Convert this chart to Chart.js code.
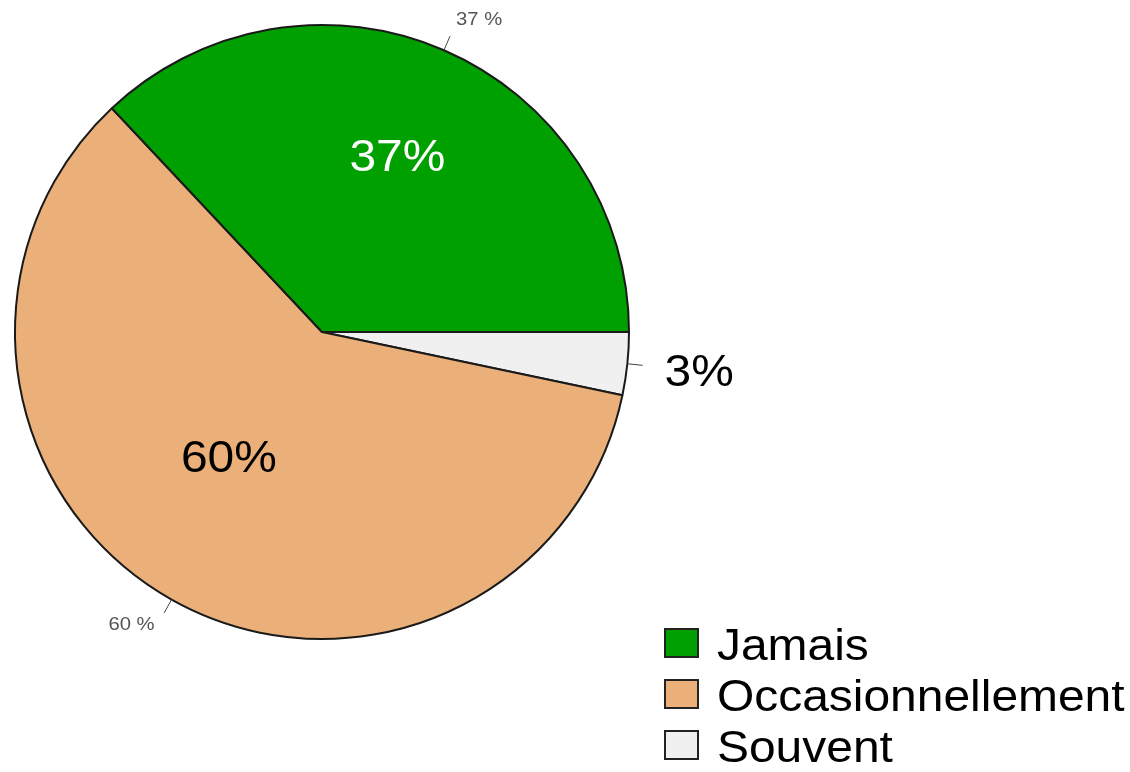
<!DOCTYPE html>
<html>
<head>
<meta charset="utf-8">
<script src="https://cdn.jsdelivr.net/npm/chart.js@4.4.0/dist/chart.umd.min.js"></script>
<style>
  html, body { margin: 0; padding: 0; background: #fff; }
  #wrap { width: 1130px; height: 772px; position: relative; }
</style>
</head>
<body>
<div id="wrap"><canvas id="pie"></canvas></div>
<script>
const categories = ["Jamais", "Occasionnellement", "Souvent"];
const values = [37, 59.7, 3.3];
const colors = ["#00A000", "#EBB07A", "#F0F0F0"];

// pie is drawn counter-clockwise from 3 o'clock in the original, so feed it reversed
const revLabels = categories.slice().reverse();
const revValues = values.slice().reverse();
const revColors = colors.slice().reverse();

const FONT = "'Liberation Sans', Arial, sans-serif";
const STRETCH = 1.065; // reference text is a bit wider than Liberation Sans

function drawText(ctx, txt, x, y, align) {
  ctx.save();
  ctx.translate(x, y);
  ctx.scale(STRETCH, 1);
  ctx.textAlign = align;
  ctx.fillText(txt, 0, 0);
  ctx.restore();
}

const labelPlugin = {
  id: "pieLabels",
  afterDatasetsDraw(chart) {
    const ctx = chart.ctx;
    const arcs = chart.getDatasetMeta(0).data;
    ctx.save();
    ctx.textBaseline = "middle";
    arcs.forEach((arc, i) => {
      const name = revLabels[i];
      const pct = Math.round(revValues[i]);
      const mid = (arc.startAngle + arc.endAngle) / 2;
      const R = arc.outerRadius;
      const at = (f, da = 0) => [arc.x + Math.cos(mid + da) * R * f, arc.y + Math.sin(mid + da) * R * f];

      // little tick marks on the rim
      const [x0, y0] = at(1.0), [x1, y1] = at(1.05);
      ctx.strokeStyle = "#444";
      ctx.lineWidth = 1;
      ctx.beginPath();
      ctx.moveTo(x0, y0);
      ctx.lineTo(x1, y1);
      ctx.stroke();

      ctx.font = "45px " + FONT;
      if (name === "Souvent") {
        const [x, y] = at(1.235);
        ctx.fillStyle = "#000";
        drawText(ctx, pct + "%", x, y + 2, "center");
      } else if (name === "Jamais") {
        const [x, y] = at(0.635);
        ctx.fillStyle = "#fff";
        drawText(ctx, pct + "%", x - 2, y + 6, "center");
        const [sx, sy] = at(1.1);
        ctx.font = "19px " + FONT;
        ctx.fillStyle = "#555";
        drawText(ctx, pct + " %", sx, sy - 2, "left");
      } else {
        const [x, y] = at(0.5, 0.14);
        ctx.fillStyle = "#000";
        drawText(ctx, pct + "%", x, y + 6, "center");
        const [sx, sy] = at(1.1);
        ctx.font = "19px " + FONT;
        ctx.fillStyle = "#555";
        drawText(ctx, pct + " %", sx - 2, sy - 2, "right");
      }
    });

    // legend, bottom right
    const lx = 665, base = 660, step = 51;
    ctx.textBaseline = "alphabetic";
    categories.forEach((c, i) => {
      const y = base + i * step;
      ctx.fillStyle = colors[i];
      ctx.fillRect(lx, y - 31, 33, 28);
      ctx.strokeStyle = "#222";
      ctx.lineWidth = 2;
      ctx.strokeRect(lx, y - 31, 33, 28);
      ctx.fillStyle = "#000";
      ctx.font = "45px " + FONT;
      drawText(ctx, c, 717, y, "left");
    });
    ctx.restore();
  }
};

new Chart(document.getElementById("pie").getContext("2d"), {
  type: "pie",
  data: {
    labels: revLabels,
    datasets: [{
      data: revValues,
      backgroundColor: revColors,
      borderColor: "#1a1a1a",
      borderWidth: 2
    }]
  },
  options: {
    responsive: true,
    maintainAspectRatio: false,
    animation: false,
    rotation: 90,
    layout: { padding: { left: 14, top: 24, right: 500, bottom: 132 } },
    plugins: {
      legend: { display: false },
      tooltip: { enabled: false }
    }
  },
  plugins: [labelPlugin]
});
</script>
</body>
</html>
